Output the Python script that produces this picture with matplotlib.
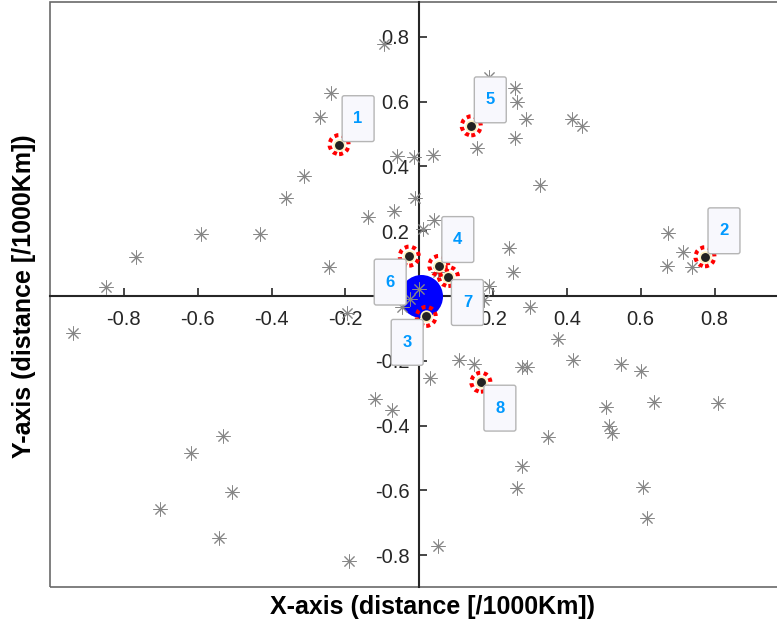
import matplotlib
matplotlib.use('Agg')
import matplotlib.pyplot as plt
from matplotlib.offsetbox import AnnotationBbox, DrawingArea
from matplotlib.patches import FancyBboxPatch, Rectangle
from matplotlib.text import Text

plt.rcParams['font.family'] = ['Liberation Sans', 'DejaVu Sans']
plt.rcParams['axes.unicode_minus'] = False

# ---------------- data ----------------
bg_x = [-0.939, -0.847, -0.766, -0.590, -0.430, -0.360, -0.311, -0.268, -0.238, -0.244,
        -0.095, -0.060, -0.014, 0.038, -0.011, -0.068, -0.138, 0.011, 0.041, 0.157,
        0.260, 0.290, 0.265, 0.260, 0.328, 0.189, 0.244, 0.254, 0.189, 0.300,
        -0.195, 0.000, -0.024, -0.046, 0.051, 0.176, 0.108, 0.149, 0.279, 0.292,
        0.030, -0.119, -0.073, 0.051, -0.189, -0.531, -0.617, -0.506, -0.701, -0.541,
        0.376, 0.417, 0.547, 0.601, 0.506, 0.636, 0.809, 0.514, 0.522, 0.349,
        0.279, 0.265, 0.606, 0.617, 0.674, 0.715, 0.671, 0.739, 0.414, 0.441]
bg_y = [-0.114, 0.028, 0.120, 0.191, 0.191, 0.302, 0.370, 0.552, 0.627, 0.090,
        0.778, 0.432, 0.429, 0.435, 0.302, 0.262, 0.244, 0.207, 0.235, 0.457,
        0.488, 0.546, 0.599, 0.642, 0.343, 0.676, 0.148, 0.074, 0.031, -0.034,
        -0.052, 0.022, -0.009, -0.034, 0.074, -0.012, -0.198, -0.210, -0.219, -0.219,
        -0.253, -0.318, -0.352, -0.772, -0.818, -0.432, -0.485, -0.605, -0.657, -0.747,
        -0.133, -0.198, -0.210, -0.231, -0.343, -0.327, -0.330, -0.401, -0.423, -0.435,
        -0.525, -0.593, -0.590, -0.685, 0.194, 0.136, 0.093, 0.090, 0.546, 0.525]

node_x = [-0.217, 0.774, 0.019, 0.053, 0.141, -0.027, 0.079, 0.167]
node_y = [0.467, 0.121, -0.063, 0.094, 0.525, 0.123, 0.060, -0.266]
node_labels = ['1', '2', '3', '4', '5', '6', '7', '8']
# label box placement: (+1,+1)=upper right, (-1,-1)=lower left, (+1,-1)=lower right
label_side = [(1, 1), (1, 1), (-1, -1), (1, 1), (1, 1), (-1, -1), (1, -1), (1, -1)]

center_x = [0.004]
center_y = [0.0]

xticks = [-0.8, -0.6, -0.4, -0.2, 0.2, 0.4, 0.6, 0.8]
yticks = [-0.8, -0.6, -0.4, -0.2, 0.2, 0.4, 0.6, 0.8]
xtick_labels = ['-0.8', '-0.6', '-0.4', '-0.2', '0.2', '0.4', '0.6', '0.8']
ytick_labels = ['-0.8', '-0.6', '-0.4', '-0.2', '0.2', '0.4', '0.6', '0.8']
xlabel = 'X-axis (distance [/1000Km])'
ylabel = 'Y-axis (distance [/1000Km])'

# ---------------- figure ----------------
W, H = 777, 628
fig = plt.figure(figsize=(W / 100, H / 100), dpi=100)
ax = fig.add_axes([50 / W, 41 / H, 738.4 / W, 585.3 / H])
ax.set_xlim(-1.0, 1.0)
ax.set_ylim(-0.898, 0.908)

for s in ['left', 'bottom']:
    ax.spines[s].set_position(('data', 0))
    ax.spines[s].set_linewidth(1.5)
    ax.spines[s].set_color('#262626')
    ax.spines[s].set_zorder(1.8)
ax.spines['right'].set_visible(False)
ax.spines['top'].set_visible(False)
ax.add_patch(Rectangle((0, 0), 1, 1, transform=ax.transAxes, fill=False,
                       ec='#6a6a6a', lw=1.2, clip_on=False, zorder=1))

ax.set_xticks(xticks)
ax.set_xticklabels(xtick_labels)
ax.set_yticks(yticks)
ax.set_yticklabels(ytick_labels)
ax.tick_params(direction='in', length=5.8, width=1.2, color='#262626',
               labelcolor='#262626', labelsize=14.5)
ax.tick_params(axis='x', pad=10)
ax.tick_params(axis='y', pad=7)

# big blue circle
ax.scatter(center_x, center_y, s=(43 * 0.72) ** 2, c='#0000ff', linewidths=0, zorder=2)

# gray asterisks
ax.plot(bg_x, bg_y, linestyle='none', marker=(8, 2, 0), markersize=10,
        mec='#878787', mew=0.7, zorder=3)

# red dashed rings
ax.scatter(node_x, node_y, s=13.7 ** 2, facecolors='none', edgecolors='#ff0000',
           linewidths=2.9, linestyles=[(0, (1.0, 0.9))], zorder=4)
# black dots
ax.scatter(node_x, node_y, s=58, c='#222222', edgecolors='#fff2c0',
           linewidths=1.2, zorder=5)

# label boxes
bw, bh = 23.0, 33.0
for x, y, lab, (sx, sy) in zip(node_x, node_y, node_labels, label_side):
    da = DrawingArea(bw, bh, 0, 0, clip=False)
    da.add_artist(FancyBboxPatch((0, 0), bw, bh,
                                 boxstyle='round,pad=0,rounding_size=1.5',
                                 fc='#f8f8fd', ec='#b5b5b5', lw=1.0))
    da.add_artist(Text(bw / 2, bh / 2, lab, ha='center', va='center',
                       fontsize=12, fontweight='bold', color='#0099ff'))
    ab = AnnotationBbox(da, (x, y), xybox=(sx * 13.7, sy * 18.7),
                        xycoords='data', boxcoords='offset points',
                        frameon=False, box_alignment=(0.5, 0.5), pad=0,
                        annotation_clip=False)
    ab.set_zorder(6)
    ax.add_artist(ab)

fig.text(432 / W, 1 - 607 / H, xlabel, ha='center', va='center',
         fontsize=18, fontweight='bold', color='#000000')
fig.text(24 / W, 1 - 296 / H, ylabel, ha='center', va='center', rotation=90,
         fontsize=18, fontweight='bold', color='#000000')

fig.savefig('out.png', dpi=100)
